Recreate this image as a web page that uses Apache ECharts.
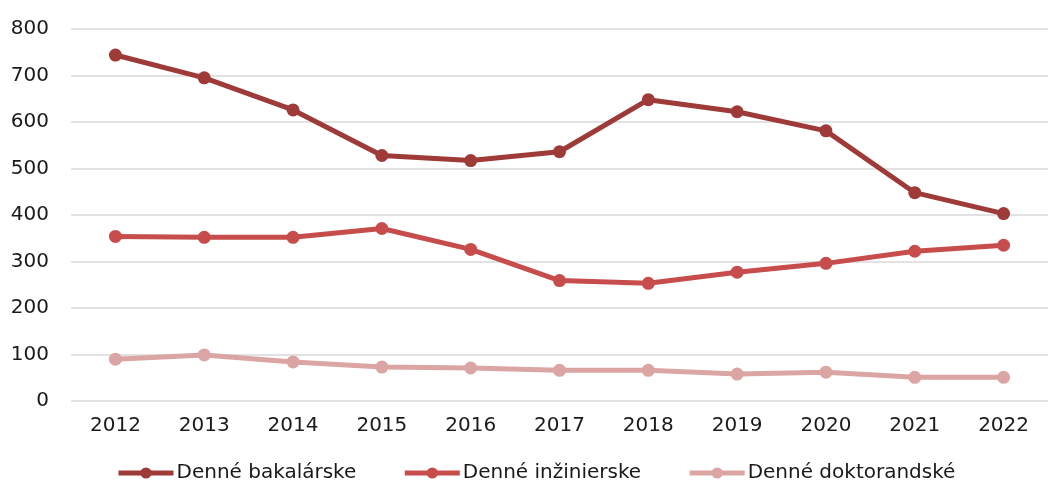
<!DOCTYPE html>
<html>
<head>
<meta charset="utf-8">
<script src="https://cdn.jsdelivr.net/npm/echarts@6/dist/echarts.min.js"></script>
<style>
  html, body { margin: 0; padding: 0; background: #fff; }
  #chart { width: 1048px; height: 490px; }
</style>
</head>
<body>
<div id="chart"></div>
<script>
// roky
var years = ['2012', '2013', '2014', '2015', '2016', '2017', '2018', '2019', '2020', '2021', '2022'];

// hodnoty odčítané z grafu
var bakalarske = [744, 695, 626, 528, 517, 536, 648, 622, 581, 448, 403];
var inzinierske = [354, 352, 352, 371, 326, 259, 253, 277, 296, 322, 335];
var doktorandske = [90, 99, 84, 73, 71, 66, 66, 58, 62, 51, 51];

var seriesNames = ['Denné bakalárske', 'Denné inžinierske', 'Denné doktorandské'];
var colors = ['#9e3a38', '#c64d4b', '#dba5a4'];

var myChart = echarts.init(document.getElementById('chart'));

function makeSeries(name, data, color) {
    return {
        name: name,
        type: 'line',
        data: data,
        symbol: 'circle',
        symbolSize: 13,
        lineStyle: { width: 5, color: color },
        itemStyle: { color: color },
        emphasis: { disabled: true }
    };
}

var option = {
    animation: false,
    color: colors,
    textStyle: { fontFamily: 'DejaVu Sans, sans-serif' },
    grid: {
        left: 71,
        right: -8,
        top: 29,
        bottom: 89,
        containLabel: false
    },
    legend: {
        bottom: 2,
        left: 111,
        itemWidth: 55,
        itemHeight: 14,
        itemGap: 46,
        lineStyle: { width: 5 },
        textStyle: { fontSize: 20, color: '#1a1a1a', padding: [0, 0, 0, -2] },
        data: seriesNames
    },
    xAxis: {
        type: 'category',
        data: years,
        boundaryGap: true,
        axisLine: { show: false },
        axisTick: { show: false },
        axisLabel: { fontSize: 20, color: '#1a1a1a', margin: 15 }
    },
    yAxis: {
        type: 'value',
        min: 0,
        max: 800,
        interval: 100,
        axisLine: { show: false },
        axisTick: { show: false },
        axisLabel: { fontSize: 20, color: '#1a1a1a', margin: 22 },
        splitLine: { lineStyle: { color: '#d9d9d9', width: 1.5 } }
    },
    series: [
        makeSeries(seriesNames[0], bakalarske, colors[0]),
        makeSeries(seriesNames[1], inzinierske, colors[1]),
        makeSeries(seriesNames[2], doktorandske, colors[2])
    ]
};

myChart.setOption(option);
</script>
</body>
</html>
